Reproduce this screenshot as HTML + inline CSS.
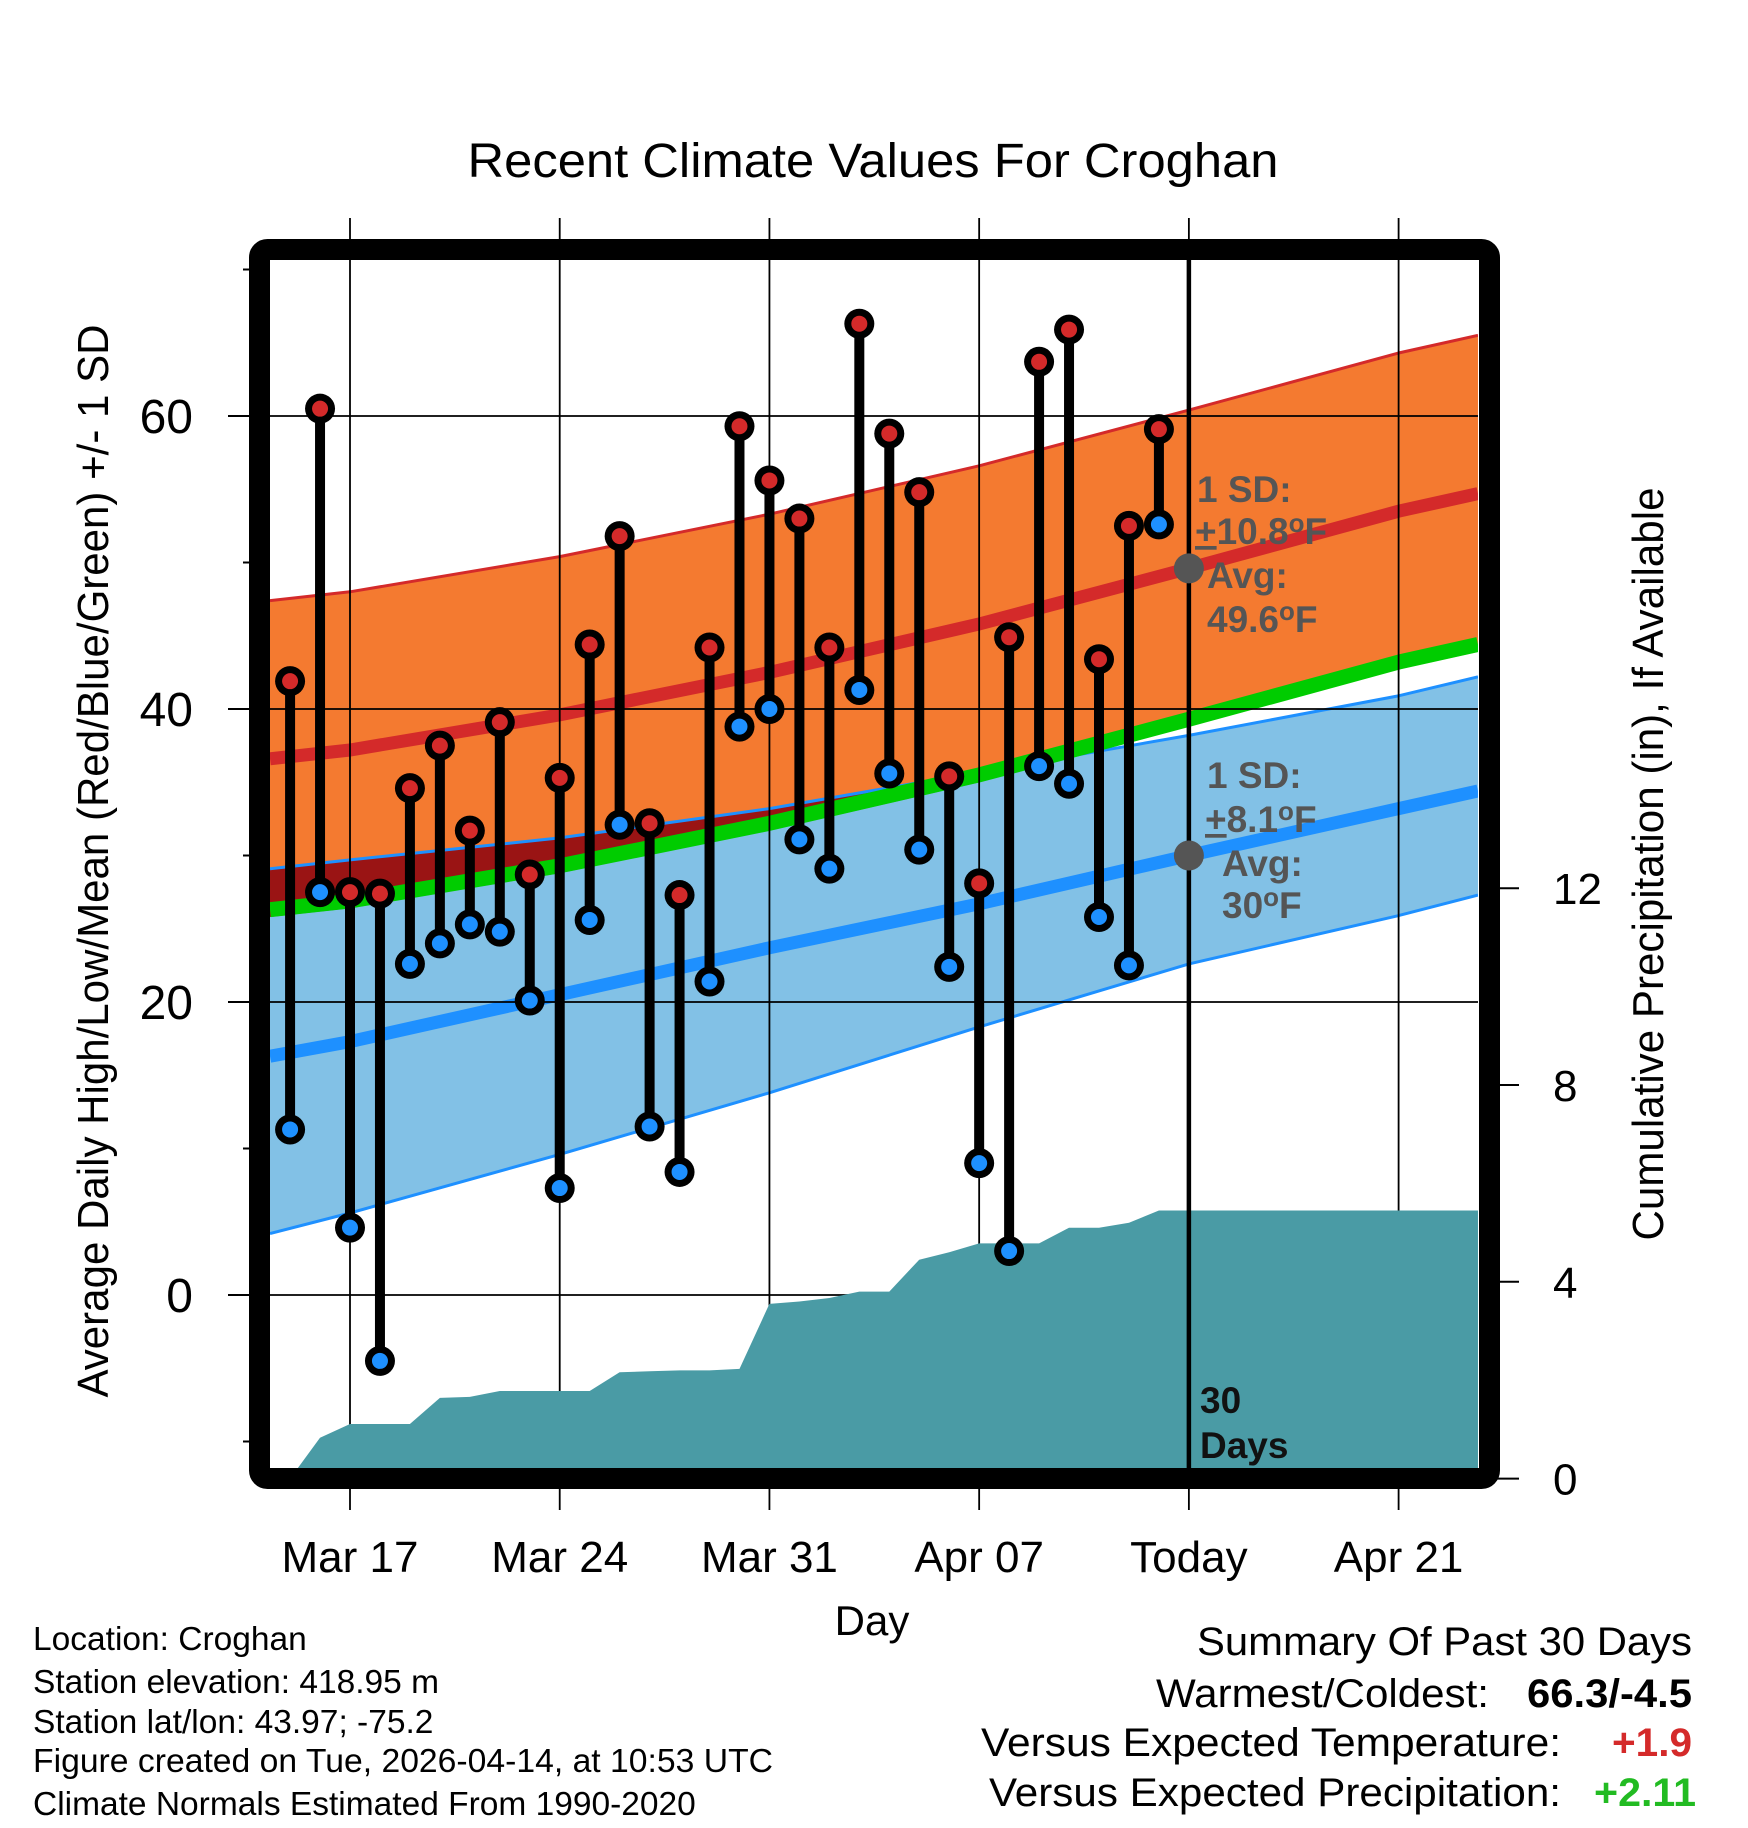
<!DOCTYPE html>
<html><head><meta charset="utf-8"><style>
html,body{margin:0;padding:0;background:#fff;}
svg{display:block;font-family:"Liberation Sans",Arial,sans-serif;}
</style></head><body>
<svg id="chart" width="1748" height="1828" viewBox="0 0 1748 1828" xmlns="http://www.w3.org/2000/svg">
<defs><clipPath id="plotclip"><rect x="270" y="260" width="1208" height="1208"/></clipPath></defs>
<text x="873" y="177" font-size="48" text-anchor="middle" textLength="811" lengthAdjust="spacingAndGlyphs">Recent Climate Values For Croghan</text>
<g id="bands" clip-path="url(#plotclip)"></g>
<g id="grid"></g>
<g id="precip" clip-path="url(#plotclip)"></g>
<g id="stems"></g>
<g id="today"></g>
<rect x="259.5" y="249.5" width="1230" height="1229" rx="8" fill="none" stroke="#000" stroke-width="21"/>
<g id="axes"></g>
<text transform="translate(108,861) rotate(-90)" font-size="44" text-anchor="middle" textLength="1073" lengthAdjust="spacingAndGlyphs">Average Daily High/Low/Mean (Red/Blue/Green) +/- 1 SD</text>
<text transform="translate(1663,864) rotate(-90)" font-size="44" text-anchor="middle" textLength="753" lengthAdjust="spacingAndGlyphs">Cumulative Precipitation (in), If Available</text>
<text x="872" y="1635" font-size="42" text-anchor="middle">Day</text>
<g font-size="33.5">
<text x="33" y="1650">Location: Croghan</text>
<text x="33" y="1693">Station elevation: 418.95 m</text>
<text x="33" y="1733">Station lat/lon: 43.97; -75.2</text>
<text x="33" y="1772" textLength="740" lengthAdjust="spacingAndGlyphs">Figure created on Tue, 2026-04-14, at 10:53 UTC</text>
<text x="33" y="1815">Climate Normals Estimated From 1990-2020</text>
</g>
<g font-size="40">
<text x="1692" y="1655" text-anchor="end" textLength="495" lengthAdjust="spacingAndGlyphs">Summary Of Past 30 Days</text>
<text x="1489" y="1707" text-anchor="end" textLength="333" lengthAdjust="spacingAndGlyphs">Warmest/Coldest:</text>
<text x="1692" y="1707" text-anchor="end" font-weight="bold" textLength="165" lengthAdjust="spacingAndGlyphs">66.3/-4.5</text>
<text x="1561" y="1756" text-anchor="end" textLength="580" lengthAdjust="spacingAndGlyphs">Versus Expected Temperature:</text>
<text x="1692" y="1756" text-anchor="end" font-weight="bold" fill="#d42a2a" textLength="80" lengthAdjust="spacingAndGlyphs">+1.9</text>
<text x="1561" y="1806" text-anchor="end" textLength="572" lengthAdjust="spacingAndGlyphs">Versus Expected Precipitation:</text>
<text x="1696" y="1806" text-anchor="end" font-weight="bold" fill="#22bb22" textLength="102" lengthAdjust="spacingAndGlyphs">+2.11</text>
</g>
</svg>
<script>
// ---- data ----
const dayLabels = ["Mar 15","Mar 16","Mar 17","Mar 18","Mar 19","Mar 20","Mar 21","Mar 22","Mar 23","Mar 24","Mar 25","Mar 26","Mar 27","Mar 28","Mar 29","Mar 30","Mar 31","Apr 01","Apr 02","Apr 03","Apr 04","Apr 05","Apr 06","Apr 07","Apr 08","Apr 09","Apr 10","Apr 11","Apr 12","Apr 13"];
const highs = [41.9,60.5,27.5,27.4,34.6,37.5,31.7,39.1,28.7,35.3,44.4,51.8,32.2,27.3,44.2,59.3,55.6,53.0,44.2,66.3,58.8,54.8,35.4,28.1,44.9,63.7,65.9,43.4,52.5,59.1];
const lows = [11.3,27.5,4.6,-4.5,22.6,24.0,25.3,24.8,20.1,7.3,25.6,32.1,11.5,8.4,21.4,38.8,40.0,31.1,29.1,41.3,35.6,30.4,22.4,9.0,3.0,36.1,34.9,25.8,22.5,52.6];
const precipCum = [0.0,0.83,1.11,1.11,1.11,1.64,1.66,1.78,1.78,1.78,1.78,2.16,2.18,2.2,2.2,2.23,3.55,3.6,3.67,3.8,3.8,4.45,4.6,4.78,4.78,4.78,5.1,5.1,5.2,5.45];
const normDays = [-2.67,0,7,14,21,28,35,37.65];
const normHighUpper = [47.4,48.0,50.4,53.3,56.6,60.4,64.3,65.5];
const normHighMean = [36.6,37.2,39.6,42.5,45.8,49.6,53.5,54.7];
const normHighLower = [25.8,26.4,28.8,31.7,35.0,38.8,42.7,43.9];
const normLowUpper = [29.1,29.7,31.2,33.2,35.7,38.2,40.9,42.2];
const normLowMean = [16.3,17.3,20.5,23.7,26.7,30.0,33.2,34.4];
const normLowLower = [4.2,5.6,9.6,13.8,18.3,22.6,25.9,27.3];
const xTickLabels = ["Mar 17","Mar 24","Mar 31","Apr 07","Today","Apr 21"];
const yTicks = [0,20,40,60];
const yMinorTicks = [-10,10,30,50,70];
const y2Ticks = [0,4,8,12];
const todayHighAvg = 49.6, todayLowAvg = 30;

// ---- scales ----
const NS="http://www.w3.org/2000/svg";
const X0=350, DAY=29.96, FIRST=-2;
const x = d => X0 + d*DAY;
const y = t => 1295 - t*14.65;
const y2 = p => 1478.6 - p*49.2;
function mk(tag, attrs, parent){const e=document.createElementNS(NS,tag);for(const k in attrs)e.setAttribute(k,attrs[k]);parent.appendChild(e);return e;}
const pts = (days, vals) => days.map((d,i)=>x(d).toFixed(1)+","+y(vals[i]).toFixed(1));
function band(upper, lower){return pts(normDays,upper).concat(pts(normDays,lower).reverse()).join(" ");}

// ---- bands ----
const B=document.getElementById('bands');
let e;
e=mk('polygon',{points:band(normHighUpper,normHighLower),fill:'#f47a30'},B);


e=mk('polygon',{points:band(normLowUpper,normLowLower),fill:'#82c1e6'},B);


const cp=mk('clipPath',{id:'hiclip'},B);
mk('polygon',{points:band(normHighUpper,normHighLower)},cp);
e=mk('polygon',{points:band(normLowUpper,normLowLower),fill:'#9a1414','clip-path':'url(#hiclip)'},B);


e=mk('polyline',{points:pts(normDays,normHighUpper).join(" "),fill:'none',stroke:'#d42a2a','stroke-width':3},B);


e=mk('polyline',{points:pts(normDays,normLowUpper).join(" "),fill:'none',stroke:'#1e90ff','stroke-width':3},B);


e=mk('polyline',{points:pts(normDays,normLowLower).join(" "),fill:'none',stroke:'#1e90ff','stroke-width':3},B);


e=mk('polyline',{points:pts(normDays,normHighMean).join(" "),fill:'none',stroke:'#d42a2a','stroke-width':13},B);


e=mk('polyline',{points:pts(normDays,normLowMean).join(" "),fill:'none',stroke:'#1e90ff','stroke-width':13},B);


e=mk('polyline',{points:pts(normDays,normHighLower.map(v=>v+0.5)).join(" "),fill:'none',stroke:'#00cc00','stroke-width':15},B);



// ---- grid ----
const G=document.getElementById('grid');
xTickLabels.forEach((l,i)=>{
  const xx=x(i*7);
  e=mk('line',{x1:xx,x2:xx,y1:218,y2:1510,stroke:'#000','stroke-width':1.8},G);
  
  
});
yTicks.forEach(t=>{
  e=mk('line',{x1:228,x2:1478,y1:y(t),y2:y(t),stroke:'#000','stroke-width':1.8},G);
  
  
});

// ---- precip ----
const P=document.getElementById('precip');
let pp=precipCum.map((v,i)=>x(FIRST+i).toFixed(1)+","+y2(v).toFixed(1));
pp.push(x(37.65)+","+y2(precipCum[precipCum.length-1]));
pp.push(x(37.65)+","+y2(0)); pp.push(x(FIRST)+","+y2(0));
e=mk('polygon',{points:pp.join(" "),fill:'#4a9ba5'},P);



// ---- stems ----
const S=document.getElementById('stems');
highs.forEach((h,i)=>{
  const xx=x(FIRST+i);
  const g=mk('g',{},S);
  
  
  mk('line',{x1:xx,x2:xx,y1:y(h),y2:y(lows[i]),stroke:'#000','stroke-width':10},g);
  e=mk('circle',{cx:xx,cy:y(h),r:15,fill:'#000'},g);
  
  
  mk('circle',{cx:xx,cy:y(h),r:8,fill:'#d42a2a'},g);
  e=mk('circle',{cx:xx,cy:y(lows[i]),r:15,fill:'#000'},g);
  
  
  mk('circle',{cx:xx,cy:y(lows[i]),r:8,fill:'#1e90ff'},g);
});

// ---- today line & annotations ----
const T=document.getElementById('today');
const tx=x(28);
e=mk('line',{x1:tx,x2:tx,y1:260,y2:1468,stroke:'#000','stroke-width':4.5},T);


e=mk('circle',{cx:tx,cy:y(todayHighAvg),r:15,fill:'#555'},T);


e=mk('circle',{cx:tx,cy:y(todayLowAvg),r:15,fill:'#555'},T);


function ann(txt,xx,yy,name,fill){const t=mk('text',{x:xx,y:yy,'font-size':37,'font-weight':'bold',fill:fill||'#555'},T);t.innerHTML=txt;return t;}
ann('1 SD:',1197,502,'high-sd-label');
ann('<tspan text-decoration="underline">+</tspan>10.8<tspan font-size="26" dy="-12">o</tspan><tspan dy="12">F</tspan>',1195,544,'high-sd-value');
ann('Avg:',1207,588,'high-avg-label');
ann('49.6<tspan font-size="26" dy="-12">o</tspan><tspan dy="12">F</tspan>',1207,632,'high-avg-value');
ann('1 SD:',1207,788,'low-sd-label');
ann('<tspan text-decoration="underline">+</tspan>8.1<tspan font-size="26" dy="-12">o</tspan><tspan dy="12">F</tspan>',1205,832,'low-sd-value');
ann('Avg:',1222,876,'low-avg-label');
ann('30<tspan font-size="26" dy="-12">o</tspan><tspan dy="12">F</tspan>',1222,918,'low-avg-value');
ann('30',1200,1413,'days-label-number','#111');
ann('Days',1200,1458,'days-label-text','#111');

// ---- axes ----
const A=document.getElementById('axes');
xTickLabels.forEach((l,i)=>{
  const t=mk('text',{x:x(i*7),y:1572,'font-size':44,'text-anchor':'middle'},A);
  t.textContent=l;
  
  
});
yTicks.forEach(v=>{
  mk('line',{x1:228,x2:255,y1:y(v),y2:y(v),stroke:'#000','stroke-width':2},A);
  const t=mk('text',{x:193,y:y(v)+17,'font-size':48,'text-anchor':'end'},A);
  t.textContent=v;
  
  
});
yMinorTicks.forEach(v=>{
  e=mk('line',{x1:243,x2:255,y1:y(v),y2:y(v),stroke:'#000','stroke-width':2},A);
  
  
});
y2Ticks.forEach(v=>{
  mk('line',{x1:1495,x2:1519,y1:y2(v),y2:y2(v),stroke:'#000','stroke-width':2},A);
  const t=mk('text',{x:1553,y:y2(v)+16,'font-size':44},A);
  t.textContent=v;
  
  
});
</script>
</body></html>
